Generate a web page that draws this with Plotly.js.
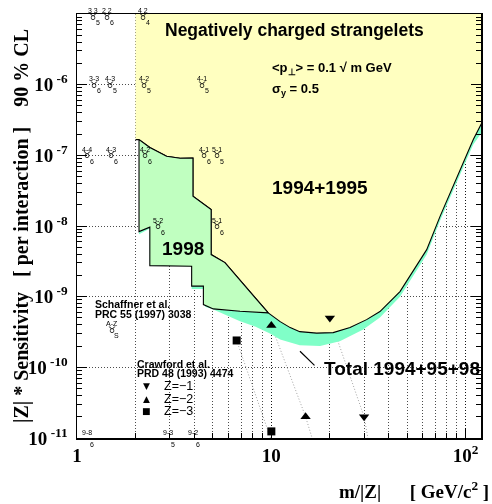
<!DOCTYPE html>
<html><head><meta charset="utf-8">
<script src="https://cdn.plot.ly/plotly-3.0.1.min.js"></script>
<style>body{margin:0;background:#fff}#chart{width:492px;height:504px}#chart .main-svg{will-change:transform}</style>
</head><body><div id="chart"></div>
<script>
// ---- data (x = m/|Z| in GeV/c^2, y = |Z| * sensitivity per interaction, 90% CL) ----
// 1994+1995 excluded region (visible outline)
const yellowX = [2.0, 125, 125, 109.4, 101.2, 86.3, 73.8, 63.0, 45.9, 36.2, 30.9, 25.4, 20.8, 17.1, 14.0, 12.5, 11.1, 9.64, 8.24, 6.90, 5.77, 4.9, 4.9, 3.95, 3.95, 3.39, 2.89, 2.37, 2.085, 2.0];
const yellowY = [1.05e-5, 1.05e-5, 3.42e-7, 1.67e-7, 1.02e-7, 3.65e-8, 1.37e-8, 4.63e-9, 1.18e-9, 6.15e-10, 4.73e-10, 3.65e-10, 3.1e-10, 3.05e-10, 3.2e-10, 3.65e-10, 4.43e-10, 5.89e-10, 9.7e-10, 1.74e-9, 3.03e-9, 3.94e-9, 1.71e-8, 2.63e-8, 9.18e-8, 9.1e-8, 9.68e-8, 1.29e-7, 1.67e-7, 1.67e-7];
// 1998 excluded region
const greenX = [2.085, 2.37, 2.89, 3.39, 3.95, 3.95, 4.9, 4.9, 5.77, 6.90, 8.24, 9.64, 6.90, 5.03, 4.47, 4.47, 3.89, 3.89, 2.37, 2.37, 2.085, 2.085];
const greenY = [1.67e-7, 1.29e-7, 9.68e-8, 9.1e-8, 9.18e-8, 2.63e-8, 1.71e-8, 3.94e-9, 3.03e-9, 1.74e-9, 9.7e-10, 5.89e-10, 6.21e-10, 6.71e-10, 7.73e-10, 1.41e-9, 1.41e-9, 2.70e-9, 2.75e-9, 9.64e-9, 8.34e-9, 1.67e-7];
// Total 1994+95+98 region
const totalX = [125, 109.4, 101.2, 86.3, 73.8, 63.0, 45.9, 36.2, 29.7, 22.5, 17.8, 14.0, 11.1, 9.84, 8.24, 6.90, 5.77, 5.03, 4.56, 4.56, 3.89, 3.89, 2.37, 2.37, 2.085, 2.085, 4.29, 14.0, 73.8, 125];
const totalY = [2.4e-7, 1.42e-7, 8.7e-8, 3.17e-8, 1.19e-8, 3.94e-9, 1.0e-9, 5.06e-10, 3.42e-10, 2.33e-10, 2.0e-10, 2.06e-10, 2.47e-10, 3.0e-10, 3.77e-10, 4.48e-10, 5.57e-10, 6.56e-10, 7.2e-10, 1.28e-9, 1.28e-9, 2.70e-9, 2.75e-9, 9.19e-9, 7.67e-9, 3e-8, 4.63e-9, 4.73e-10, 2.36e-8, 6.14e-7];
// Crawford et al. predictions
const z1X = [20, 30], z1Y = [5.0e-10, 2.0e-11];
const z2X = [10, 15], z2Y = [3.9e-10, 2.0e-11];
const z3X = [6.63, 10], z3Y = [2.4e-10, 1.24e-11];
const z1LineX = [20, 30, 31.4], z1LineY = [5.0e-10, 2.0e-11, 1e-11];
const z2LineX = [10, 15, 16.2], z2LineY = [3.9e-10, 2.0e-11, 1e-11];
const z3LineX = [6.63, 9.9], z3LineY = [2.4e-10, 1e-11];
// strangelet symbols (A Z on top, S below)
const symX  = [1.213, 1.42, 2.18, 1.22, 1.48, 2.21, 4.40, 1.12, 1.50, 2.24, 4.50, 5.24, 2.62, 5.27, 1.51];
const symY  = [9.2e-6, 9.2e-6, 9.2e-6, 1e-6, 1e-6, 1e-6, 1e-6, 1e-7, 1e-7, 1e-7, 1e-7, 1e-7, 1e-8, 1e-8, 3.4e-10];
const symAZ = ["3 3", "2 2", "4 2", "3-3", "4-3", "4-2", "4-1", "4-4", "4-3", "4-2", "4-1", "5-1", "5-2", "5-1", "A-Z"];
const symS  = ["5", "6", "4", "6", "5", "5", "5", "6", "6", "6", "6", "5", "6", "6", "S"];
const botX  = [1.12, 2.95, 3.97], botY = [1e-11, 1e-11, 1e-11];
const botAZ = ["9-8", "9-3", "9-2"], botS = ["6", "5", "6"];
// axis ticks
const xTickVals = [1, 10, 100], xTickText = ["1", "10", "10<sup>2</sup>"];
const yTickVals = [1e-11, 1e-10, 1e-9, 1e-8, 1e-7, 1e-6];
const yTickText = ["10<sup> -11</sup>", "10<sup> -10</sup>", "10<sup> -9</sup>", "10<sup> -8</sup>", "10<sup> -7</sup>", "10<sup> -6</sup>"];
const legendLabels = ["Z=\u22121", "Z=\u22122", "Z=\u22123"];
const legendGlyphs = ["\u25BC", "\u25B2", "\u25A0"];

// ---- traces ----
const dotLine = {color: '#999', width: 0.9, dash: '1px,2px'};
const traces = [
  {x: z1LineX, y: z1LineY, mode: 'lines', line: dotLine, hoverinfo: 'skip'},
  {x: z2LineX, y: z2LineY, mode: 'lines', line: dotLine, hoverinfo: 'skip'},
  {x: z3LineX, y: z3LineY, mode: 'lines', line: dotLine, hoverinfo: 'skip'},
  {x: totalX, y: totalY, mode: 'lines', fill: 'toself', fillcolor: '#80ffc8', line: {width: 0, color: '#80ffc8'}},
  {x: yellowX, y: yellowY, mode: 'lines', fill: 'toself', fillcolor: '#ffffc0', line: {width: 1.1, color: '#000'}},
  {x: greenX, y: greenY, mode: 'lines', fill: 'toself', fillcolor: '#c0ffc0', line: {width: 1.1, color: '#000'}},
  {x: z1X, y: z1Y, mode: 'markers', marker: {symbol: 'triangle-down', size: 9, color: '#000'}},
  {x: z2X, y: z2Y, mode: 'markers', marker: {symbol: 'triangle-up', size: 9, color: '#000'}},
  {x: z3X, y: z3Y, mode: 'markers', marker: {symbol: 'square', size: 8, color: '#000'}}
];

// ---- annotations ----
const ann = [];
const sans = 'Liberation Sans';
function P(px, py) { return {x: (px - 77) / 404, y: (438 - py) / 424}; }
function txt(px, py, text, size, opts) {
  const p = P(px, py);
  return Object.assign({xref: 'paper', yref: 'paper', x: p.x, y: p.y, text: text, showarrow: false,
    xanchor: 'left', yanchor: 'middle', font: {family: sans, size: size, weight: 'bold', color: '#000'}}, opts || {});
}
ann.push(txt(294, 30, 'Negatively charged strangelets', 17.5, {xanchor: 'center'}));
ann.push(txt(270, 68, '&lt;p<sub>\u22A5</sub>&gt; = 0.1 \u221A m GeV', 13));
ann.push(txt(270, 89, '\u03C3<sub>y</sub> = 0.5', 13));
ann.push(txt(319.5, 187, '1994+1995', 19, {xanchor: 'center'}));
ann.push(txt(182.5, 248.3, '1998', 19, {xanchor: 'center'}));
ann.push(txt(92.5, 304, 'Schaffner et al.', 10.5));
ann.push(txt(92.5, 314.3, 'PRC 55 (1997) 3038', 10.5));
ann.push(txt(135, 364.3, 'Crawford et al.', 10.5));
ann.push(txt(135, 373.3, 'PRD 48 (1993) 4474', 10.5));
ann.push(txt(321.5, 368.3, 'Total 1994+95+98', 19));
// pointer to total band
ann.push({xref: 'x', yref: 'y', x: Math.log10(14.04), y: Math.log10(1.69e-10), text: '', showarrow: true,
  arrowhead: 0, arrowwidth: 1.2, arrowcolor: '#000', ax: 16, ay: 15.6, standoff: 0, startstandoff: 0});
// legend
const legY = [386, 398.7, 410.7];
for (let i = 0; i < 3; i++) {
  ann.push(txt(146.7, legY[i], legendGlyphs[i], 9, {xanchor: 'center', font: {family: 'DejaVu Sans', size: 9, color: '#000'}}));
  ann.push(txt(162, legY[i], legendLabels[i], 12.5, {font: {family: sans, size: 12.5, color: '#000'}}));
}
// strangelet symbols
function sym(x, y, az, s, glyph) {
  const lx = Math.log10(x), ly = Math.log10(y);
  const f = {family: sans, size: 7, color: '#000'};
  if (glyph) ann.push({xref: 'x', yref: 'y', x: lx, y: ly, text: '\u2649\uFE0E', showarrow: false,
    font: {family: 'DejaVu Sans', size: 9, color: '#000'}});
  ann.push({xref: 'x', yref: 'y', x: lx, y: ly, yshift: 6, text: az, showarrow: false, font: f});
  ann.push({xref: 'x', yref: 'y', x: lx, y: ly, xshift: 5, yshift: -6, text: s, showarrow: false, font: f});
}
for (let i = 0; i < symX.length; i++) sym(symX[i], symY[i], symAZ[i], symS[i], true);
for (let i = 0; i < botX.length; i++) sym(botX[i], botY[i], botAZ[i], botS[i], false);
// axis titles
const serif = 'Liberation Serif';
ann.push({xref: 'paper', yref: 'paper', x: (21 - 77) / 404, y: 0.5, textangle: -90, showarrow: false,
  xanchor: 'center', yanchor: 'middle',
  text: '|Z| * Sensitivity\u00a0\u00a0\u00a0[ per interaction ]\u00a0\u00a0\u00a0\u00a090 % CL',
  font: {family: serif, size: 20, weight: 'bold', color: '#000'}});
ann.push({xref: 'paper', yref: 'paper', x: (491 - 77) / 404, y: (438 - 490) / 424, showarrow: false,
  xanchor: 'right', yanchor: 'middle',
  text: 'm/|Z|\u00a0\u00a0\u00a0\u00a0\u00a0\u00a0[ GeV/c<sup>2</sup> ]',
  font: {family: serif, size: 19, weight: 'bold', color: '#000'}});

const gridDash = '1px,2px';
const layout = {
  width: 492, height: 504,
  margin: {l: 77, r: 11, t: 14, b: 66, pad: 0},
  paper_bgcolor: '#fff', plot_bgcolor: '#fff',
  showlegend: false,
  xaxis: {type: 'log', range: [0, 2.0787], showline: true, linecolor: '#000', linewidth: 1.5, mirror: true,
    ticks: 'inside', ticklen: 10, tickcolor: '#000', tickwidth: 1,
    tickmode: 'array', tickvals: xTickVals, ticktext: xTickText, ticklabelstandoff: 0,
    tickfont: {family: serif, size: 19, weight: 'bold', color: '#000'},
    showgrid: true, gridcolor: '#000', griddash: gridDash, gridwidth: 0.7, zeroline: false,
    minor: {ticks: 'inside', ticklen: 5, tickcolor: '#000', dtick: 'D1', showgrid: true,
      gridcolor: '#000', griddash: gridDash, gridwidth: 0.7}},
  yaxis: {type: 'log', range: [-11, -5], showline: true, linecolor: '#000', linewidth: 1.5, mirror: 'allticks',
    ticks: 'inside', ticklen: 10, tickcolor: '#000', tickwidth: 1,
    tickmode: 'array', tickvals: yTickVals, ticktext: yTickText, ticklabelstandoff: 4,
    tickfont: {family: serif, size: 19, weight: 'bold', color: '#000'},
    showgrid: true, gridcolor: '#000', griddash: gridDash, gridwidth: 0.7, zeroline: false,
    minor: {ticks: 'inside', ticklen: 5, tickcolor: '#000', dtick: 'D1', showgrid: false}},
  annotations: ann
};
Plotly.newPlot('chart', traces, layout, {staticPlot: true, displayModeBar: false});
</script>
</body></html>
